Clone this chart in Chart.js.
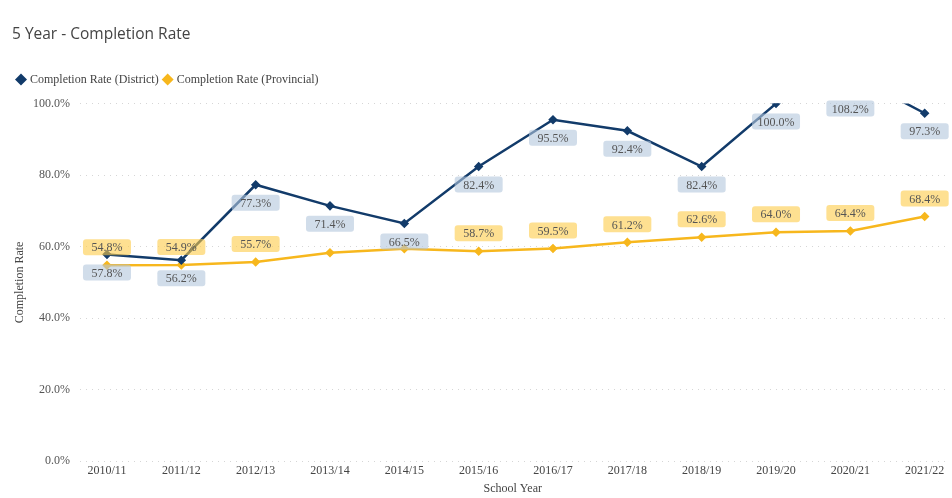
<!DOCTYPE html>
<html>
<head>
<meta charset="utf-8">
<script src="https://cdn.jsdelivr.net/npm/chart.js@4"></script>
<style>
  html, body { margin: 0; padding: 0; background: #fff; }
  #wrap { width: 952px; height: 498px; position: relative; }
</style>
</head>
<body>
<div id="wrap"><canvas id="myChart" width="952" height="498"></canvas></div>
<script>
const years = ["2010/11", "2011/12", "2012/13", "2013/14", "2014/15", "2015/16",
  "2016/17", "2017/18", "2018/19", "2019/20", "2020/21", "2021/22"]
const district = [57.8, 56.2, 77.3, 71.4, 66.5, 82.4, 95.5, 92.4, 82.4, 100.0, 108.2, 97.3]
const provincial = [54.8, 54.9, 55.7, 58.3, 59.4, 58.7, 59.5, 61.2, 62.6, 64.0, 64.4, 68.4]
// provincial labels power bi hid because of overlap
const hiddenProvLabels = [3, 4]

const navy = "#123b6a"
const gold = "#f7b71d"
const serif = "'Liberation Serif', 'DejaVu Serif', serif"

// little rounded boxes with the values, like the original data labels
const valueLabels = {
  id: "valueLabels",
  afterDatasetsDraw(chart) {
    const ctx = chart.ctx
    const area = chart.chartArea
    ctx.save()
    ctx.font = "12px " + serif
    ctx.textAlign = "center"
    ctx.textBaseline = "middle"
    chart.data.datasets.forEach((ds, di) => {
      const meta = chart.getDatasetMeta(di)
      meta.data.forEach((pt, i) => {
        if (di === 1 && hiddenProvLabels.includes(i)) return
        const v = ds.data[i].y
        let cy
        if (di === 0) {
          cy = v > 100 ? area.top + 5 : Math.max(pt.y, area.top) + 18
        } else {
          cy = pt.y - 18
        }
        const w = 48, h = 16
        ctx.fillStyle = di === 0 ? "rgba(178,198,220,0.6)" : "rgba(253,204,72,0.6)"
        ctx.beginPath()
        ctx.roundRect(pt.x - w / 2, cy - h / 2, w, h, 3)
        ctx.fill()
        ctx.fillStyle = "#555"
        ctx.fillText(v.toFixed(1) + "%", pt.x, cy + 1)
      })
    })
    ctx.restore()
  }
}

// a bit more room under the legend
const legendGap = {
  id: "legendGap",
  beforeInit(chart) {
    const fit = chart.legend.fit
    chart.legend.fit = function () {
      fit.bind(chart.legend)()
      this.height += 8
    }
  }
}

const toPoints = (arr) => arr.map((v, i) => ({ x: i, y: v }))

const ctx = document.getElementById("myChart").getContext("2d")
const myChart = new Chart(ctx, {
  type: "line",
  data: {
    datasets: [
      {
        label: "Completion Rate (District)",
        data: toPoints(district),
        borderColor: navy,
        backgroundColor: navy,
        borderWidth: 2.5,
        pointStyle: "rectRot",
        pointRadius: 3,
        tension: 0
      },
      {
        label: "Completion Rate (Provincial)",
        data: toPoints(provincial),
        borderColor: gold,
        backgroundColor: gold,
        borderWidth: 2.5,
        pointStyle: "rectRot",
        pointRadius: 3,
        tension: 0
      }
    ]
  },
  options: {
    responsive: false,
    animation: false,
    devicePixelRatio: 1,
    layout: { padding: { left: 12, right: 0, top: 0, bottom: 0 } },
    plugins: {
      title: {
        display: true,
        text: "5 Year - Completion Rate",
        align: "start",
        color: "#444",
        font: { family: "'Open Sans', 'Noto Sans', sans-serif", size: 15.5, weight: "normal" },
        padding: { top: 25, bottom: 24 }
      },
      legend: {
        align: "start",
        labels: {
          usePointStyle: true,
          pointStyle: "rectRot",
          boxWidth: 6,
          boxHeight: 6,
          padding: 6,
          color: "#444",
          font: { family: serif, size: 12 }
        }
      },
      tooltip: { enabled: false }
    },
    scales: {
      x: {
        type: "linear",
        min: -0.363,
        max: 11.28,
        afterBuildTicks: (axis) => {
          axis.ticks = years.map((y, i) => ({ value: i }))
        },
        afterFit: (axis) => {
          axis.paddingLeft = 0
          axis.paddingRight = 0
        },
        ticks: {
          callback: (v) => years[v],
          color: "#444",
          font: { family: serif, size: 12 },
          maxRotation: 0,
          padding: 2
        },
        grid: { display: false, drawTicks: false },
        border: { display: false },
        title: {
          display: true,
          text: "School Year",
          color: "#444",
          font: { family: serif, size: 12 },
          padding: { top: 2, bottom: 2 }
        }
      },
      y: {
        min: 0,
        max: 100,
        afterFit: (axis) => { axis.width = 68 },
        ticks: {
          stepSize: 20,
          callback: (v) => v.toFixed(1) + "%",
          color: "#555",
          font: { family: serif, size: 12 },
          padding: 10
        },
        grid: { color: "#d6d6d6", drawTicks: false },
        border: { display: false, dash: [1, 5] },
        title: {
          display: true,
          text: "Completion Rate",
          color: "#444",
          font: { family: serif, size: 12 },
          padding: { top: 1, bottom: 0 }
        }
      }
    }
  },
  plugins: [valueLabels, legendGap]
})
</script>
</body>
</html>
